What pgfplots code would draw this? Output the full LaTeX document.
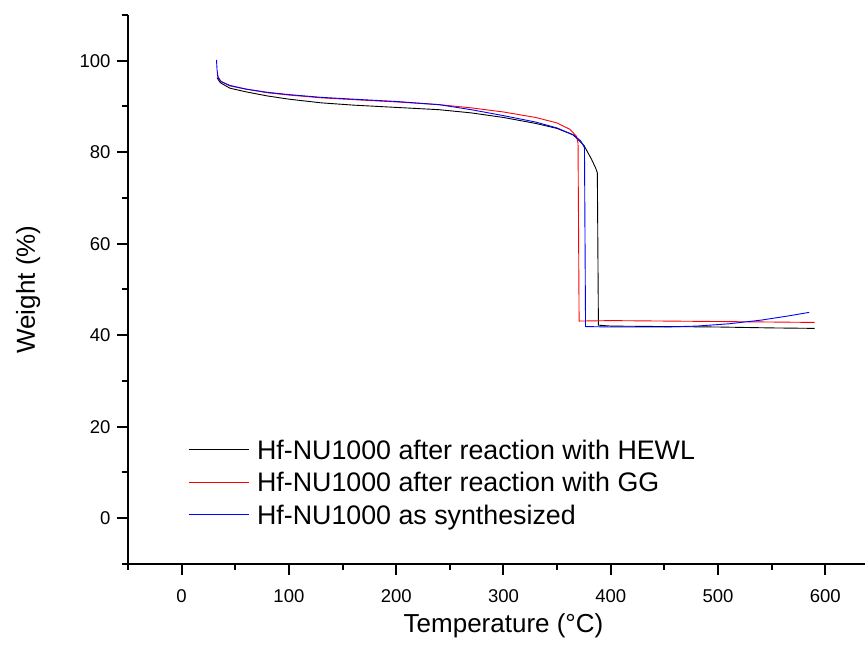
\documentclass[border=0pt]{standalone}
\usepackage{fontspec}
\setmainfont{Liberation Sans}
\usepackage{pgfplots}
\pgfplotsset{compat=1.18}

\begin{document}
\begin{tikzpicture}
\begin{axis}[
  name=ax,
  scale only axis, width=737pt, height=549pt,
  xmin=-50, xmax=637, ymin=-10, ymax=110,
  axis lines=left, axis line style={-, line width=2pt},
  xtick={0,100,...,600}, ytick={0,20,...,100},
  minor xtick={-50,50,...,650}, minor ytick={-10,10,...,110},
  tick align=outside, major tick length=11pt, minor tick length=6pt,
  every tick/.style={black, line width=2pt},
  tick label style={font=\fontsize{18.5}{22}\selectfont},
  xticklabel style={yshift=-11pt},
  yticklabel style={xshift=-3pt},
  /pgf/number format/assume math mode=true,
  xlabel={Temperature (°C)}, ylabel={Weight (\%)},
  label style={font=\fontsize{26}{30}\selectfont},
  xlabel style={at={(axis description cs:0.5095,-0.1239)}, anchor=base},
  ylabel style={at={(axis description cs:-0.1262,0.5)}, anchor=base},
  legend style={draw=none, fill=none, at={(axis description cs:0.0814,0.1494)},
    anchor=west, inner sep=0pt, font=\fontsize{26.8}{31}\selectfont,
    row sep=6.1pt, nodes={inner sep=0pt, text height=22.8pt, text depth=3.6pt},
    /tikz/every odd column/.append style={column sep=8pt}},
  legend cell align=left,
  legend image code/.code={\draw[#1] (0pt,0pt) -- (60pt,0pt);},
]
% Hf-NU1000 after reaction with HEWL
\addplot[black, line width=0.9pt] coordinates {
  (33,96.3)(36,95.2)(45,94.0)(60,93.2)(80,92.3)(100,91.6)(130,90.8)(160,90.3)
  (200,89.8)(240,89.3)(270,88.6)(300,87.6)(330,86.3)(350,85.2)(365,83.8)
  (375,81.5)(382,78.5)(386,76.5)(387.5,75.5)(388.5,42.2)(400,42.0)(450,41.9)
  (500,41.8)(550,41.6)(590,41.5)
};
\addlegendentry{Hf-NU1000 after reaction with HEWL}
% Hf-NU1000 after reaction with GG
\addplot[red, line width=0.9pt] coordinates {
  (33,97.0)(36,95.6)(45,94.5)(60,93.8)(80,93.0)(100,92.5)(130,91.9)(160,91.5)
  (200,91.0)(240,90.4)(270,89.7)(300,88.8)(330,87.6)(350,86.4)(362,85.0)
  (368,83.5)(369.5,82.0)(370.5,43.1)(400,43.2)(500,43.0)(590,42.8)
};
\addlegendentry{Hf-NU1000 after reaction with GG}
% Hf-NU1000 as synthesized
\addplot[blue, line width=0.9pt] coordinates {
  (32.5,100.2)(33,98.0)(34,96.3)(37,95.4)(45,94.6)(60,93.8)(80,93.1)(100,92.6)
  (130,92.0)(160,91.6)(200,91.1)(240,90.4)(270,89.3)(300,88.0)(330,86.6)
  (350,85.3)(365,83.8)(372,82.5)(375.5,81.0)(376.5,41.9)(400,41.8)(450,41.8)
  (480,42.0)(510,42.5)(540,43.3)(565,44.2)(585,45.0)
};
\addlegendentry{Hf-NU1000 as synthesized}
\end{axis}
\pgfresetboundingbox
\path[use as bounding box] ([xshift=-128pt,yshift=-85pt]ax.south west)
  rectangle ([yshift=15pt]ax.north east);
\end{tikzpicture}
\end{document}
